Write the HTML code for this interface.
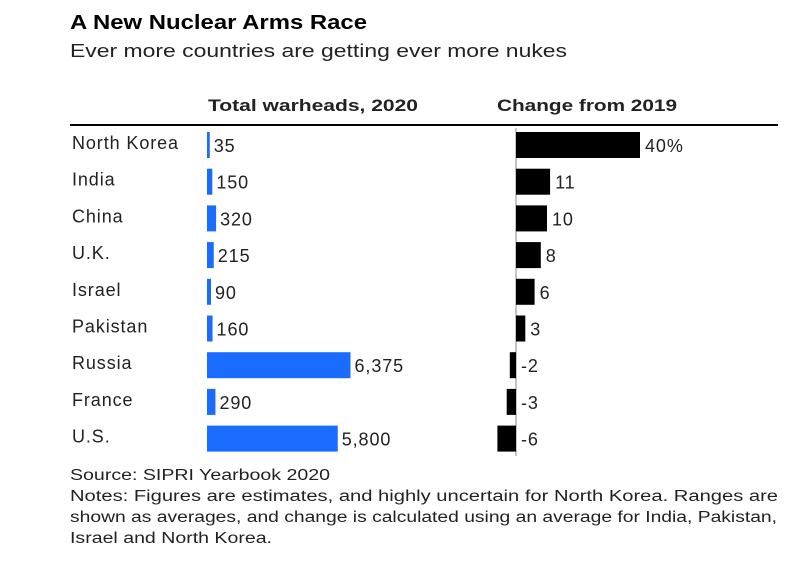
<!DOCTYPE html>
<html><head><meta charset="utf-8"><style>
body{margin:0;background:#fff;font-family:"Liberation Sans",sans-serif;}
svg text{font-family:"Liberation Sans",sans-serif;}
</style></head><body>
<svg width="805" height="567">
<text x="70" y="29" font-size="20.5" font-weight="bold" fill="#000" textLength="297" lengthAdjust="spacingAndGlyphs">A New Nuclear Arms Race</text>
<text x="70" y="57" font-size="18" fill="#222" textLength="497" lengthAdjust="spacingAndGlyphs">Ever more countries are getting ever more nukes</text>
<text x="208" y="111" font-size="17" font-weight="bold" fill="#222" textLength="210" lengthAdjust="spacingAndGlyphs">Total warheads, 2020</text>
<text x="497" y="111" font-size="17" font-weight="bold" fill="#222" textLength="180" lengthAdjust="spacingAndGlyphs">Change from 2019</text>
<line x1="70" y1="125" x2="778" y2="125" stroke="#000" stroke-width="2"/>
<line x1="516" y1="128" x2="516" y2="456" stroke="#888" stroke-width="1"/>
<g id="rows"></g>
<text x="70" y="480" font-size="15.5" fill="#222" textLength="260" lengthAdjust="spacingAndGlyphs">Source: SIPRI Yearbook 2020</text>
<text x="70" y="501" font-size="15.5" fill="#222" textLength="708" lengthAdjust="spacingAndGlyphs">Notes: Figures are estimates, and highly uncertain for North Korea. Ranges are</text>
<text x="70" y="522" font-size="15.5" fill="#222" textLength="707" lengthAdjust="spacingAndGlyphs">shown as averages, and change is calculated using an average for India, Pakistan,</text>
<text x="70" y="543" font-size="15.5" fill="#222" textLength="202" lengthAdjust="spacingAndGlyphs">Israel and North Korea.</text>
</svg>
<script>
const countries=["North Korea","India","China","U.K.","Israel","Pakistan","Russia","France","U.S."];
const warheads=[35,150,320,215,90,160,6375,290,5800];
const warheadLabels=["35","150","320","215","90","160","6,375","290","5,800"];
const changes=[40,11,10,8,6,3,-2,-3,-6];
const changeLabels=["40%","11","10","8","6","3","-2","-3","-6"];
const NS="http://www.w3.org/2000/svg";
const g=document.getElementById("rows");
const rowY=i=>145+i*36.7;
const xW=v=>2+v*0.0222;
const xC=v=>v*3.1;
function mk(tag,attrs){const e=document.createElementNS(NS,tag);for(const k in attrs)e.setAttribute(k,attrs[k]);g.appendChild(e);return e;}
countries.forEach((c,i)=>{
  const y=rowY(i);
  const t=mk("text",{x:72,y:y+4,"font-size":18,fill:"#222","letter-spacing":"0.9"});t.textContent=c;
  
  
  const w=xW(warheads[i]);
  const b=mk("rect",{x:207,y:y-13,width:w,height:26,fill:"#1a6cff"});
  
  
  const l=mk("text",{x:207+w+4,y:y+7,"font-size":18,fill:"#222","letter-spacing":"0.9"});l.textContent=warheadLabels[i];
  
  
  const cw=xC(changes[i]);
  const cb=mk("rect",{x:cw>=0?516:516+cw,y:y-13,width:Math.abs(cw),height:26,fill:"#000"});
  
  
  const cl=mk("text",{x:(cw>=0?516+cw:516)+5,y:y+7,"font-size":18,fill:"#222","letter-spacing":"0.9"});cl.textContent=changeLabels[i];
  
  
});
</script>
</body></html>
